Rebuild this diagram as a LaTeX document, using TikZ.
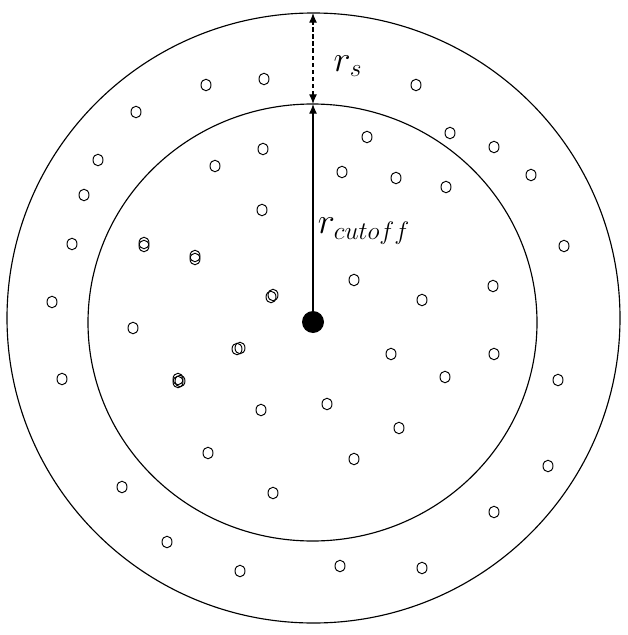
\documentclass[tikz,border=0pt]{standalone}
\usepackage{amsmath}
\usepackage{tikz}
\usetikzlibrary{arrows.meta, positioning}

\begin{document}
\begin{tikzpicture}[
    x=0.02cm, y=-0.02cm,
    shell/.style={draw, line width=0.65pt},
    particle/.style={draw, line width=0.55pt},
    hub/.style={circle, fill=black, inner sep=0pt, minimum size=0.44cm},
    arrow/.style={-{Latex[length=5.5pt, width=4.5pt]}, line width=0.6pt},
    darrow/.style={{Latex[length=5.5pt, width=4.5pt]}-{Latex[length=5.5pt, width=4.5pt]}, line width=0.6pt, dash pattern=on 2.4pt off 1.6pt},
    lbl/.style={font=\fontsize{20}{24}\selectfont, inner sep=0pt}
]
    \useasboundingbox (0,0) rectangle (628,635);

    % the two shells
    \draw[shell] (313.5,318) ellipse [x radius=306.5, y radius=305];
    \draw[shell] (312.5,322.5) ellipse [x radius=224.5, y radius=218.5];

    % particles in the skin
    \foreach \px/\py in {206/85, 264/79, 416/85, 136/112, 98/160, 84/195, 72/244,
        52/302, 62/379, 122/487, 167/542, 240/571, 340/566, 422/568, 494/512,
        548/466, 558/380, 564/246, 531/175, 494/147, 450/133}
        \draw[particle] (\px,\py) ellipse [x radius=5, y radius=5.8];

    % particles inside the cutoff
    \foreach \px/\py in {367/137, 263/149, 215/166, 342/172, 396/178, 446/187,
        262/210, 354/280, 422/300, 493/286, 133/328, 391/354, 494/354,
        445/377, 261/410, 327/404, 399/428, 208/453, 354/459, 273/493,
        144/246, 144/243, 195/259, 195/256, 271/297, 273/295, 237/349, 240/348,
        178/382, 178/379, 180/381}
        \draw[particle] (\px,\py) ellipse [x radius=5, y radius=5.8];

    % centre and radii
    \node[hub] (centre) at (313,322) {};
    \coordinate (innertop) at (313,104);
    \coordinate (outertop) at (313,13);

    \draw[arrow] (centre) -- (innertop);
    \draw[darrow] (innertop) -- (outertop);

    \node[lbl] (rs) at (348,66) {$r_s$};
    \node[lbl] (rcut) at (364,231) {$r_{cutoff}$};
\end{tikzpicture}
\end{document}
